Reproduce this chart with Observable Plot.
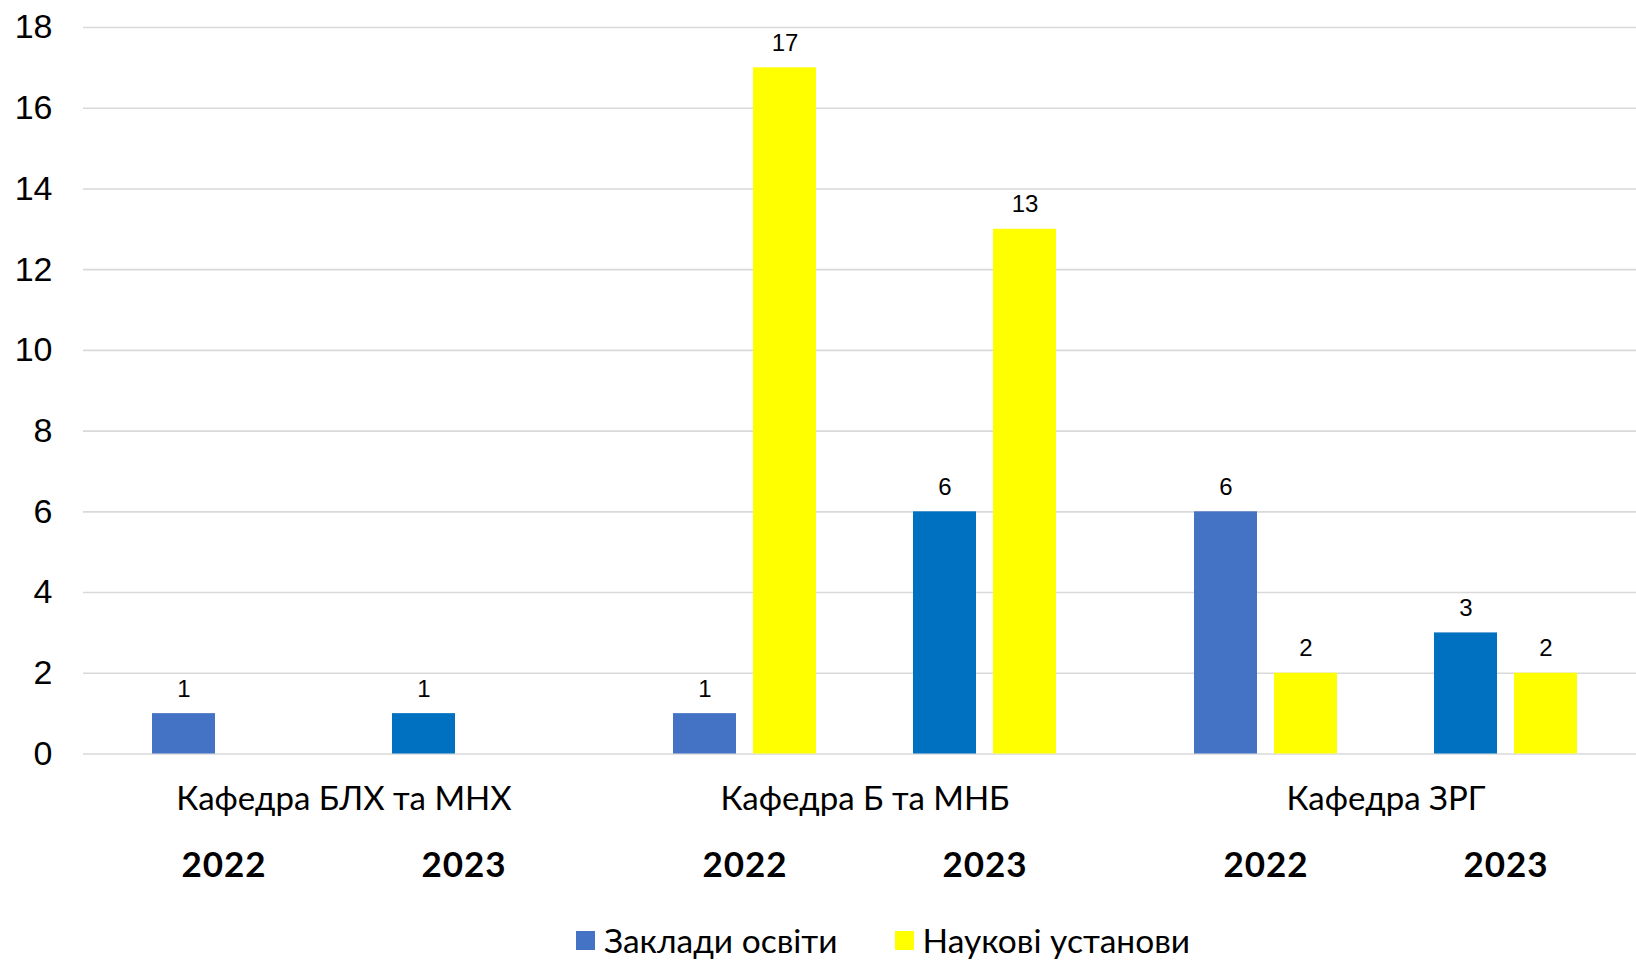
<!DOCTYPE html>
<html>
<head>
<meta charset="utf-8">
<script src="https://cdn.jsdelivr.net/npm/d3@7"></script>
<script src="https://cdn.jsdelivr.net/npm/@observablehq/plot@0.6"></script>
<style>
  html, body { margin: 0; padding: 0; background: #fff; overflow: hidden; }
  #legend {
    display: flex; justify-content: center; align-items: center;
    height: 70px; padding-left: 130px; box-sizing: border-box; width: 1636px;
    font-family: Lato, "Open Sans", sans-serif; font-size: 33.5px; color: #000;
  }
  .item { display: flex; align-items: center; }
  .item + .item { margin-left: 57px; }
  .sw { width: 19px; height: 19px; margin-right: 9px; }
  .years text { letter-spacing: 1px; }
</style>
</head>
<body>
<div id="chart"></div>
<div id="legend"></div>
<script>
// ---- data ----
const departments = ["Кафедра БЛХ та МНХ", "Кафедра Б та МНБ", "Кафедра ЗРГ"];
const years = ["2022", "2023"];
const seriesNames = ["Заклади освіти", "Наукові установи"];
// values in order: department × year
const educationValues = [1, 1, 1, 6, 6, 3];
const scienceValues = [0, 0, 17, 13, 2, 2];
const yTicks = [0, 2, 4, 6, 8, 10, 12, 14, 16, 18];

// ---- styles ----
const educationColors = {"2022": "#4472C4", "2023": "#0070C0"};
const scienceColor = "#FFFF00";
const legendColors = ["#4472C4", "#FFFF00"];
const barW = 63, barGap = 17;

const rows = [];
departments.forEach((dept, i) => {
  years.forEach((year, j) => {
    const k = i * years.length + j;
    rows.push({dept, year, series: seriesNames[0], value: educationValues[k], color: educationColors[year]});
    rows.push({dept, year, series: seriesNames[1], value: scienceValues[k], color: scienceColor});
  });
});
const edu = rows.filter(d => d.series === seriesNames[0]);
const sci = rows.filter(d => d.series === seriesNames[1]);

const chart = Plot.plot({
  width: 1636,
  height: 905,
  marginLeft: 83,
  marginRight: -10,
  marginTop: 27,
  marginBottom: 151.5,
  style: {background: "#fff", color: "#000"},
  fx: {domain: departments, paddingInner: 0, paddingOuter: 0, axis: null},
  x: {domain: years, paddingInner: 0.4042, paddingOuter: 0.2875, align: 0.5},
  y: {domain: [0, 18]},
  color: {type: "identity"},
  marks: [
    Plot.gridY({ticks: yTicks, stroke: "#d9d9d9", strokeOpacity: 1, strokeWidth: 1.6}),
    Plot.axisY({ticks: yTicks, tickSize: 0, tickPadding: 31, fontSize: 34,
      fontFamily: "'Liberation Sans', Arial, sans-serif", label: null}),
    Plot.barY(edu, {fx: "dept", x: "year", y: "value", fill: "color", insetRight: barW + barGap}),
    Plot.barY(sci, {fx: "dept", x: "year", y: "value", fill: "color", insetLeft: barW + barGap}),
    Plot.text(edu.filter(d => d.value > 0), {fx: "dept", x: "year", y: "value", text: d => String(d.value),
      dx: -(barW + barGap) / 2, dy: -17, lineAnchor: "bottom", fontSize: 24,
      fontFamily: "'Liberation Sans', Arial, sans-serif", fill: "#000"}),
    Plot.text(sci.filter(d => d.value > 0), {fx: "dept", x: "year", y: "value", text: d => String(d.value),
      dx: (barW + barGap) / 2, dy: -17, lineAnchor: "bottom", fontSize: 24,
      fontFamily: "'Liberation Sans', Arial, sans-serif", fill: "#000"}),
    Plot.axisX({tickSize: 0, tickPadding: 98, fontSize: 35, fontWeight: "bold",
      fontFamily: "Lato, 'Open Sans', sans-serif", label: null, className: "years"}),
    Plot.text(departments, {fx: d => d, text: d => d, frameAnchor: "bottom", dy: 56,
      fontSize: 33, fontFamily: "Lato, 'Open Sans', sans-serif", fill: "#000"})
  ]
});
document.getElementById("chart").appendChild(chart);

const legend = document.getElementById("legend");
seriesNames.forEach((name, i) => {
  const item = document.createElement("div");
  item.className = "item";
  const sw = document.createElement("span");
  sw.className = "sw";
  sw.style.background = legendColors[i];
  const label = document.createElement("span");
  label.textContent = name;
  item.appendChild(sw);
  item.appendChild(label);
  legend.appendChild(item);
});
</script>
</body>
</html>
